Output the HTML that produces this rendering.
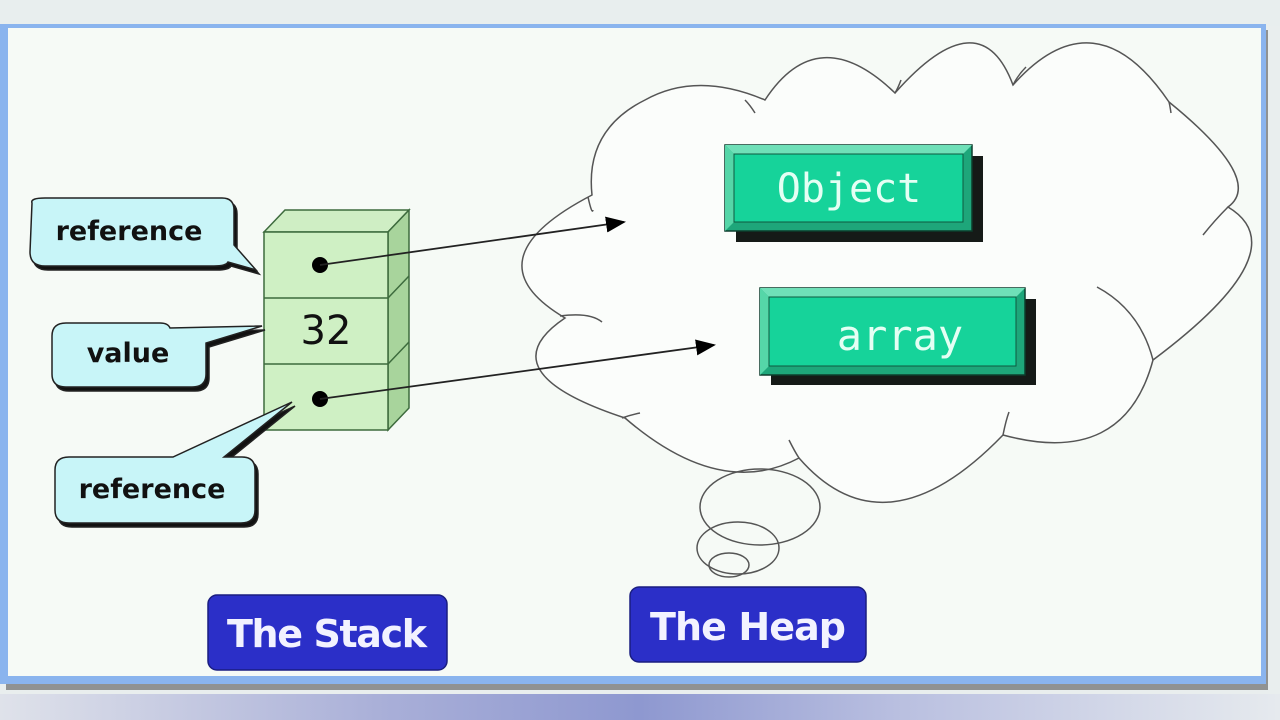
<!DOCTYPE html>
<html><head><meta charset="utf-8"><style>
html,body{margin:0;padding:0;width:1280px;height:720px;overflow:hidden;background:#e9eeee;font-family:"DejaVu Sans","Liberation Sans",sans-serif}
</style></head><body>
<svg width="1280" height="720" viewBox="0 0 1280 720" xmlns="http://www.w3.org/2000/svg">
<defs>
<linearGradient id="bot" x1="0" x2="1" y1="0" y2="0">
<stop offset="0" stop-color="#dfe2ea"/><stop offset="0.3" stop-color="#a9afd8"/><stop offset="0.5" stop-color="#8e98d0"/><stop offset="0.7" stop-color="#b9bfe0"/><stop offset="1" stop-color="#e6eaee"/>
</linearGradient>
<marker id="ah" markerWidth="20" markerHeight="16" refX="18" refY="8" orient="auto" markerUnits="userSpaceOnUse"><path d="M0,0 L20,8 L0,16 z" fill="#000"/></marker>
</defs>
<rect x="0" y="0" width="1280" height="26" fill="#e8eeee"/>
<rect x="0" y="694" width="1280" height="26" fill="url(#bot)"/>
<!-- frame -->
<rect x="6" y="30" width="1262" height="660" fill="#555" opacity="0.6"/>
<rect x="0" y="24" width="1266" height="660" fill="#8ab4ee"/>
<rect x="8" y="28" width="1253" height="648" fill="#f6faf6"/>
<!-- cloud -->
<path d="M592,195 Q585,130 645,100 Q697,71 765,100 Q818,19 895,93 Q980,-3 1013,85 Q1095,-7 1169,102 Q1265,180 1228,207 Q1300,250 1153,360 Q1124,468 1003,435 Q885,557 799,458 Q720,500 625,418 Q485,372 565,318 Q467,260 592,195 Z" fill="#fbfdfb" stroke="#555" stroke-width="1.5"/>
<g fill="none" stroke="#555" stroke-width="1.5">
<path d="M588,197 Q592,215 593,210"/>
<path d="M560,316 Q590,312 602,322"/>
<path d="M622,418 Q630,415 640,413"/>
<path d="M1097,287 Q1140,310 1153,360"/>
<path d="M1009,412 Q1006,420 1003,435"/>
<path d="M789,440 Q795,452 799,458"/>
<path d="M755,113 Q750,105 745,100"/>
<path d="M901,80 Q898,88 895,93"/>
<path d="M1026,67 Q1018,75 1013,85"/>
<path d="M1171,113 Q1170,106 1169,102"/>
<path d="M1203,235 Q1215,220 1228,207"/>
<ellipse cx="760" cy="507" rx="60" ry="38"/>
<ellipse cx="738" cy="548" rx="41" ry="26"/>
<ellipse cx="729" cy="565" rx="20" ry="12"/>
</g>
<!-- green boxes -->
<g>
<rect x="736" y="156" width="247" height="86" fill="#151a17"/>
<rect x="725" y="145" width="247" height="86" fill="#1ea67a" stroke="#0d3d2c" stroke-width="1.5"/>
<polygon points="725,145 972,145 963,154 734,154" fill="#6fe0b8"/>
<polygon points="725,145 734,154 734,222 725,231" fill="#55d6a8"/>
<rect x="734" y="154" width="229" height="68" fill="#16d39a" stroke="#0d5a40" stroke-width="1"/>
<text x="849" y="202" text-anchor="middle" font-family="'DejaVu Sans Mono','Liberation Mono',monospace" font-size="40" fill="#e4fff4">Object</text>
<rect x="771" y="299" width="265" height="86" fill="#151a17"/>
<rect x="760" y="288" width="265" height="87" fill="#1ea67a" stroke="#0d3d2c" stroke-width="1.5"/>
<polygon points="760,288 1025,288 1016,297 769,297" fill="#6fe0b8"/>
<polygon points="760,288 769,297 769,366 760,375" fill="#55d6a8"/>
<rect x="769" y="297" width="247" height="69" fill="#16d39a" stroke="#0d5a40" stroke-width="1"/>
<text x="900" y="350" text-anchor="middle" font-family="'DejaVu Sans Mono','Liberation Mono',monospace" font-size="42" fill="#e4fff4">array</text>
</g>
<!-- stack -->
<g stroke="#3d6b3d" stroke-width="1.5">
<polygon points="264,232 285,210 409,210 388,232" fill="#cfeec4"/>
<polygon points="388,232 409,210 409,408 388,430" fill="#a8d49c"/>
<rect x="264" y="232" width="124" height="198" fill="#cff0c4"/>
<line x1="264" y1="298" x2="388" y2="298"/>
<line x1="264" y1="364" x2="388" y2="364"/>
<line x1="388" y1="298" x2="409" y2="276"/>
<line x1="388" y1="364" x2="409" y2="342"/>
</g>
<circle cx="320" cy="265" r="8" fill="#000"/>
<circle cx="320" cy="399" r="8" fill="#000"/>
<text x="326" y="344" text-anchor="middle" font-size="40" fill="#111">32</text>
<line x1="320" y1="265" x2="624" y2="222" stroke="#222" stroke-width="1.8" marker-end="url(#ah)"/>
<line x1="320" y1="399" x2="714" y2="345" stroke="#222" stroke-width="1.8" marker-end="url(#ah)"/>
<!-- callouts -->
<g stroke="#222" stroke-width="1.5">
<path d="M32,203 Q30,198 45,198 L222,198 Q234,198 234,210 L234,245 L256,270 L228,262 Q226,266 214,266 L45,266 Q30,266 30,252 Z" fill="#111" transform="translate(3,4)"/>
<path d="M32,203 Q30,198 45,198 L222,198 Q234,198 234,210 L234,245 L256,270 L228,262 Q226,266 214,266 L45,266 Q30,266 30,252 Z" fill="#c8f5f8"/>
<path d="M52,336 Q52,323 66,323 L160,323 Q168,323 170,328 L262,326 L206,343 L206,374 Q206,387 192,387 L66,387 Q52,387 52,374 Z" fill="#111" transform="translate(3,4)"/>
<path d="M52,336 Q52,323 66,323 L160,323 Q168,323 170,328 L262,326 L206,343 L206,374 Q206,387 192,387 L66,387 Q52,387 52,374 Z" fill="#c8f5f8"/>
<path d="M55,470 Q55,457 69,457 L173,457 L292,402 L224,457 L242,457 Q255,457 255,470 L255,510 Q255,523 241,523 L69,523 Q55,523 55,510 Z" fill="#111" transform="translate(3,4)"/>
<path d="M55,470 Q55,457 69,457 L173,457 L292,402 L224,457 L242,457 Q255,457 255,470 L255,510 Q255,523 241,523 L69,523 Q55,523 55,510 Z" fill="#c8f5f8"/>
</g>
<g font-weight="bold" fill="#111" font-size="27" text-anchor="middle">
<text x="129" y="240">reference</text>
<text x="128" y="362">value</text>
<text x="152" y="498">reference</text>
</g>
<!-- labels -->
<rect x="208" y="595" width="239" height="75" rx="9" fill="#2b2fc8" stroke="#1a1d80" stroke-width="1.5"/>
<text x="327" y="647" text-anchor="middle" font-size="38" font-weight="bold" fill="#f2f2ff" textLength="200">The Stack</text>
<rect x="630" y="587" width="236" height="75" rx="9" fill="#2b2fc8" stroke="#1a1d80" stroke-width="1.5"/>
<text x="748" y="640" text-anchor="middle" font-size="38" font-weight="bold" fill="#f2f2ff" textLength="196">The Heap</text>
</svg>
</body></html>
